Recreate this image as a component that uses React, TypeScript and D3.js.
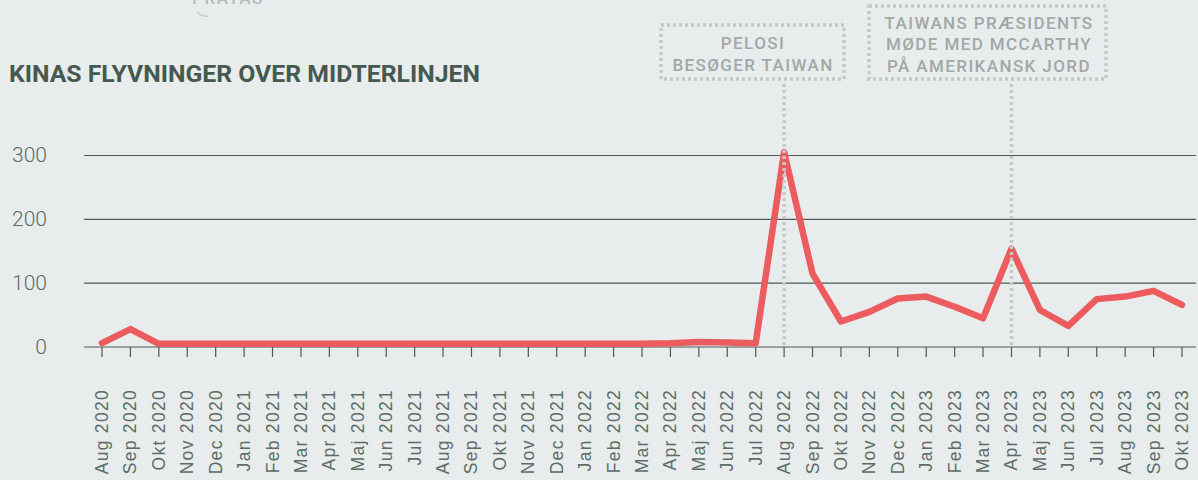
import { useEffect, useRef } from 'react';
import * as d3 from 'd3';

const months = [
  'Aug 2020', 'Sep 2020', 'Okt 2020', 'Nov 2020', 'Dec 2020',
  'Jan 2021', 'Feb 2021', 'Mar 2021', 'Apr 2021', 'Maj 2021', 'Jun 2021',
  'Jul 2021', 'Aug 2021', 'Sep 2021', 'Okt 2021', 'Nov 2021', 'Dec 2021',
  'Jan 2022', 'Feb 2022', 'Mar 2022', 'Apr 2022', 'Maj 2022', 'Jun 2022',
  'Jul 2022', 'Aug 2022', 'Sep 2022', 'Okt 2022', 'Nov 2022', 'Dec 2022',
  'Jan 2023', 'Feb 2023', 'Mar 2023', 'Apr 2023', 'Maj 2023', 'Jun 2023',
  'Jul 2023', 'Aug 2023', 'Sep 2023', 'Okt 2023',
];

const flights = [
  6, 28, 5, 5, 5,
  5, 5, 5, 5, 5, 5,
  5, 5, 5, 5, 5, 5,
  5, 5, 5, 6, 8, 7,
  6, 305, 115, 40, 55, 76,
  79, 63, 45, 154, 58, 33,
  75, 79, 88, 66,
];

const yTicks = [0, 100, 200, 300];

const annotations = [
  { month: 'Aug 2022', lines: ['PELOSI', 'BESØGER TAIWAN'] },
  { month: 'Apr 2023', lines: ['TAIWANS PRÆSIDENTS', 'MØDE MED MCCARTHY', 'PÅ AMERIKANSK JORD'] },
];

export default function App() {
  const ref = useRef<SVGSVGElement | null>(null);

  useEffect(() => {
    document.body.style.margin = '0';
    const svg = d3.select(ref.current);
    svg.selectAll('*').remove();

    const width = 1198;
    const height = 480;
    const left = 84;
    const right = 1196;

    svg.append('rect').attr('width', width).attr('height', height).attr('fill', '#e8ecec');

    const x = d3.scalePoint<string>().domain(months).range([102, 1182]);
    const y = d3.scaleLinear().domain([0, 300]).range([347, 155.5]);

    // label cut by the top edge, as in the source
    svg.append('text')
      .attr('x', 228).attr('y', 4)
      .attr('text-anchor', 'middle')
      .attr('font-family', 'Roboto, sans-serif')
      .attr('font-weight', 500)
      .attr('font-size', 17)
      .attr('letter-spacing', 1.4)
      .attr('fill', '#b5baba')
      .text('PRATAS');
    svg.append('path')
      .attr('d', 'M197,12 Q202,17 208,16')
      .attr('fill', 'none')
      .attr('stroke', '#c4c8c8')
      .attr('stroke-width', 1.5);

    // title
    svg.append('text')
      .attr('x', 9).attr('y', 82)
      .attr('font-family', 'Roboto, sans-serif')
      .attr('font-weight', 700)
      .attr('font-size', 23)
      .attr('textLength', 471)
      .attr('lengthAdjust', 'spacingAndGlyphs')
      .attr('fill', '#45594f')
      .text('KINAS FLYVNINGER OVER MIDTERLINJEN');

    // gridlines
    svg.append('g')
      .selectAll('line')
      .data(yTicks)
      .join('line')
      .attr('x1', left).attr('x2', right)
      .attr('y1', d => y(d)).attr('y2', d => y(d))
      .attr('stroke', '#4d5a56')
      .attr('stroke-width', 1.2);

    svg.append('g')
      .selectAll('text')
      .data(yTicks)
      .join('text')
      .attr('x', 47)
      .attr('y', d => y(d) + 1)
      .attr('text-anchor', 'end')
      .attr('dominant-baseline', 'middle')
      .attr('font-family', 'Roboto, sans-serif')
      .attr('font-weight', 300)
      .attr('font-size', 21)
      .attr('fill', '#5c6c67')
      .text(d => d);

    // x ticks
    svg.append('g')
      .selectAll('line')
      .data(months)
      .join('line')
      .attr('x1', d => x(d)!).attr('x2', d => x(d)!)
      .attr('y1', y(0)).attr('y2', y(0) + 10)
      .attr('stroke', '#4d5a56')
      .attr('stroke-width', 1.2);

    svg.append('g')
      .selectAll('text')
      .data(months)
      .join('text')
      .attr('transform', d => `translate(${x(d)! + 6},389) rotate(-90)`)
      .attr('text-anchor', 'end')
      .attr('font-family', '"Liberation Sans", Arial, sans-serif')
      .attr('font-size', 17.5)
      .attr('letter-spacing', 1.3)
      .attr('fill', '#5c6c67')
      .text(d => d);

    // data line
    const line = d3.line<number>()
      .x((_, i) => x(months[i])!)
      .y(d => y(d));

    svg.append('path')
      .datum(flights)
      .attr('d', line)
      .attr('fill', 'none')
      .attr('stroke', '#ec5b5e')
      .attr('stroke-width', 6.5)
      .attr('stroke-linejoin', 'round')
      .attr('stroke-linecap', 'round');

    // annotations
    const boxes = [
      { x0: 661, x1: 844, y0: 25, y1: 79, cx: 753, base: [49, 71] },
      { x0: 869, x1: 1106, y0: 6, y1: 79, cx: 989, base: [29, 50, 72] },
    ];
    annotations.forEach((a, i) => {
      const b = boxes[i];
      const g = svg.append('g');
      g.append('rect')
        .attr('x', b.x0).attr('y', b.y0)
        .attr('width', b.x1 - b.x0).attr('height', b.y1 - b.y0)
        .attr('fill', 'none')
        .attr('stroke', '#c6c9c9')
        .attr('stroke-width', 3.5)
        .attr('stroke-dasharray', '3 3');
      g.append('line')
        .attr('x1', x(a.month)!).attr('x2', x(a.month)!)
        .attr('y1', 84).attr('y2', y(0))
        .attr('stroke', '#c6c9c9')
        .attr('stroke-width', 3.5)
        .attr('stroke-dasharray', '3 3');
      a.lines.forEach((t, j) => {
        g.append('text')
          .attr('x', b.cx).attr('y', b.base[j])
          .attr('text-anchor', 'middle')
          .attr('font-family', 'Roboto, sans-serif')
          .attr('font-weight', 500)
          .attr('font-size', 17)
          .attr('letter-spacing', 1.4)
          .attr('fill', '#a2a7a7')
          .text(t);
      });
    });
  }, []);

  return (
    <svg
      ref={ref}
      width={1198}
      height={480}
      style={{ display: 'block', position: 'absolute', left: 0, top: 0 }}
    />
  );
}
